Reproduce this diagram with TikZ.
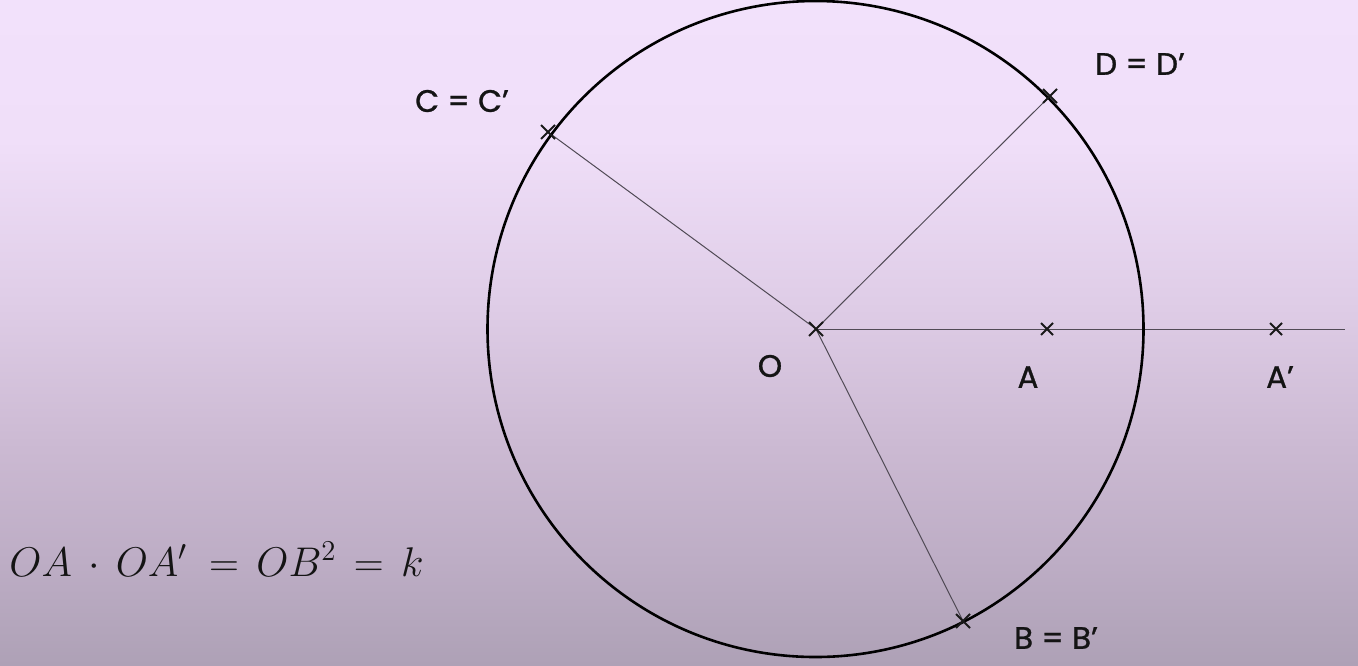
\documentclass[tikz,border=0pt]{standalone}
\usepackage{fontspec}
\newfontfamily\lblfont{Poppins}[FakeBold=1.0]
\usetikzlibrary{calc}
\definecolor{bgTop}{HTML}{F2E1FB}
\definecolor{bgA}{HTML}{F0DFF9}
\definecolor{bgB}{HTML}{DFCDE7}
\definecolor{bgC}{HTML}{CBB9D2}
\definecolor{bgD}{HTML}{BDADC5}
\definecolor{bgE}{HTML}{AEA1B6}
\definecolor{ray}{HTML}{504A55}
\pgfdeclareverticalshading{bgshade}{100bp}{
  color(0bp)=(bgE); color(25bp)=(bgE); color(32.9bp)=(bgD); color(41.2bp)=(bgC);
  color(52.4bp)=(bgB); color(64.5bp)=(bgA); color(75bp)=(bgTop); color(100bp)=(bgTop)}
\tikzset{
  lbl/.style={font=\fontsize{15.5}{18}\lblfont, text=black!92, inner sep=0pt},
  raypath/.style={draw=ray, line width=0.5pt},
  crossmark/.style={draw=black!90, line width=1pt},
}
\newcommand{\xmark}[2]{\draw[crossmark] ($(#1)+(-#2,-#2)$) -- ($(#1)+(#2,#2)$) ($(#1)+(-#2,#2)$) -- ($(#1)+(#2,-#2)$);}
\begin{document}
\begin{tikzpicture}[x=0.5pt,y=-0.5pt]
\useasboundingbox (0,0) rectangle (1358,665);
\fill[shading=bgshade] (0,0) rectangle (1358,665);
% points
\coordinate (O) at (816,329);
\coordinate (A) at (1047,329);
\coordinate (Ap) at (1276,329);
\coordinate (C) at (548,132);
\coordinate (D) at (1050,96);
\coordinate (B) at (963,621);
\coordinate (E) at (1345,329);
% rays
\draw[raypath] (O) -- (C);
\draw[raypath] (O) -- (D);
\draw[raypath] (O) -- (B);
\draw[raypath] (O) -- (E);
% circle
\draw[line width=1.3pt, black] (815.5,329) circle[radius=328];
% marks
\xmark{O}{7}\xmark{A}{6}\xmark{Ap}{6}\xmark{C}{7}\xmark{D}{7}\xmark{B}{7}
% labels
\node[lbl] (lC) at (462,101) {C = C’};
\node[lbl] (lD) at (1140,64) {D = D’};
\node[lbl] (lO) at (770,366) {O};
\node[lbl] (lA) at (1028,377) {A};
\node[lbl] (lAp) at (1280,377) {A’};
\node[lbl] (lB) at (1056,638) {B = B’};
\node[anchor=base west, inner sep=0pt, font=\fontsize{22.5}{26}\selectfont, text=black!92] (f) at (9,576)
  {\medmuskip=7mu\thickmuskip=7.5mu $OA\cdot OA'\mkern2mu= OB^2= k$};
\end{tikzpicture}
\end{document}
